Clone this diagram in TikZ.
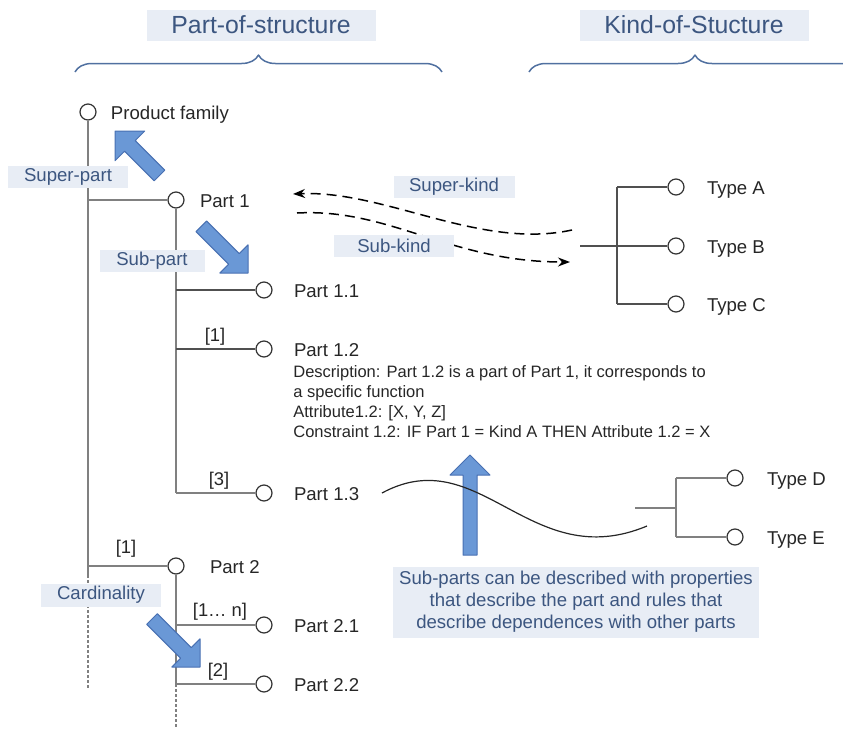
\documentclass[tikz,border=0pt]{standalone}
\usepackage{fontspec}
\setmainfont{Liberation Sans}
\usetikzlibrary{positioning,decorations.pathreplacing,arrows.meta}
\definecolor{tagfill}{RGB}{232,237,245}
\definecolor{tagtext}{RGB}{60,86,128}
\definecolor{bracecol}{RGB}{80,112,160}
\definecolor{arrowfill}{RGB}{106,152,214}
\definecolor{arrowedge}{RGB}{72,112,178}
\definecolor{stemgray}{RGB}{128,128,128}
\definecolor{linkgray}{RGB}{80,80,80}
\begin{document}
\begin{tikzpicture}[x=0.5pt,y=-0.5pt,line join=round,>={Stealth[length=6pt,width=4.5pt]},
  knot/.style={circle,draw=black!80,fill=white,line width=0.6pt,minimum size=8pt,inner sep=0pt},
  partlabel/.style={inner sep=0pt,text height=1.4ex,text depth=0pt,text=black!85,font=\fontsize{9.3}{11}\selectfont},
  card/.style={inner sep=0pt,text=black!85,font=\fontsize{9.2}{11}\selectfont},
  tag/.style={fill=tagfill,text=tagtext,inner sep=0pt,minimum height=11pt,font=\fontsize{9.3}{11}\selectfont},
  title/.style={fill=tagfill,text=tagtext,inner sep=0pt,minimum width=114.5pt,minimum height=15.5pt,font=\fontsize{12.4}{15}\selectfont},
  stem/.style={draw=stemgray,line width=1pt},
  link/.style={draw=linkgray,line width=0.7pt},
  cut/.style={dash pattern=on 1.5pt off 1pt},
  kindline/.style={line width=0.75pt,dash pattern=on 5pt off 3pt},
  fatarrow/.style={fill=arrowfill,draw=arrowedge,line width=0.5pt},
  curly/.style={draw=bracecol,line width=0.75pt,decorate,decoration={brace,amplitude=8.5pt}}]
\useasboundingbox (0,0) rectangle (843,729);

% headings
\node[title] (pos) at (261,25) {Part-of-structure};
\node[title] (kos) at (694,25) {Kind-of-Stucture};
\draw[curly] (75,72) -- (442,72);
\begin{scope}
\clip (0,0) rectangle (843,729);
\draw[curly] (529,72) -- (861,72);
\end{scope}

% part-of tree
\node[knot] (pf) at (88,112) {};
\node[knot] (p1) at (176,200) {};
\node[knot] (p11) at (264,290) {};
\node[knot] (p12) at (264,349) {};
\node[knot] (p13) at (264,493) {};
\node[knot] (p2) at (176,566) {};
\node[knot] (p21) at (264,625) {};
\node[knot] (p22) at (264,684) {};
\coordinate (mainbreak) at (88,575);
\coordinate (mainend) at (88,690);
\coordinate (subbreak) at (176,684);
\coordinate (subend) at (176,727);

\draw[stem] (pf) -- (mainbreak);
\draw[stem,cut] (mainbreak) -- (mainend);
\draw[stem] (pf |- p1) -- (p1);
\draw[stem] (pf |- p2) -- (p2);
\draw[stem] (p1) -- (p1 |- p13);
\draw[link] (p1 |- p11) -- (p11);
\draw[link] (p1 |- p12) -- (p12);
\draw[stem] (p1 |- p13) -- (p13);
\draw[stem] (p2) -- (subbreak);
\draw[stem,cut] (subbreak) -- (subend);
\draw[stem] (p2 |- p21) -- (p21);
\draw[stem] (p2 |- p22) -- (p22);

\node[partlabel,right=7pt of pf] (pft) {Product family};
\node[partlabel,right=7.5pt of p1] (p1t) {Part 1};
\node[partlabel,right=10.5pt of p11] (p11t) {Part 1.1};
\node[partlabel,right=10.5pt of p12] (p12t) {Part 1.2};
\node[partlabel,right=10.5pt of p13] (p13t) {Part 1.3};
\node[partlabel,right=12.5pt of p2] (p2t) {Part 2};
\node[partlabel,right=10.5pt of p21] (p21t) {Part 2.1};
\node[partlabel,right=10.5pt of p22] (p22t) {Part 2.2};
\node[anchor=north west,inner sep=0pt,align=left,text=black!85,font=\fontsize{8.25}{10}\selectfont] (p12d) at (293,365)
  {Description: Part 1.2 is a part of Part 1, it corresponds to\\a specific function\\Attribute1.2: [X, Y, Z]\\Constraint 1.2: IF Part 1 = Kind A THEN Attribute 1.2 = X};

\node[card] (c12) at (215,337) {[1]};
\node[card] (c13) at (219,481) {[3]};
\node[card] (c2) at (126,549) {[1]};
\node[card] (c21) at (220,612) {[1… n]};
\node[card] (c22) at (218,672) {[2]};

% kind-of trees
\node[knot] (ta) at (676,187) {};
\node[knot] (tb) at (676,246) {};
\node[knot] (tc) at (676,304) {};
\node[knot] (td) at (735,478) {};
\node[knot] (te) at (735,537) {};
\coordinate (kj) at (617,246);
\coordinate (ks) at (580,246);
\coordinate (dj) at (676,508);
\coordinate (ds) at (635,508);

\draw[link] (ks) -- (tb);
\draw[link] (kj |- ta) -- (kj |- tc);
\draw[link] (kj |- ta) -- (ta);
\draw[link] (kj |- tc) -- (tc);
\draw[stem,line width=0.8pt] (ds) -- (dj);
\draw[stem,line width=0.8pt] (dj |- td) -- (dj |- te);
\draw[stem,line width=0.8pt] (dj |- td) -- (td);
\draw[stem,line width=0.8pt] (dj |- te) -- (te);

\node[partlabel,right=11pt of ta] (tat) {Type A};
\node[partlabel,right=11pt of tb] (tbt) {Type B};
\node[partlabel,right=11pt of tc] (tct) {Type C};
\node[partlabel,right=11.5pt of td] (tdt) {Type D};
\node[partlabel,right=11.5pt of te] (tet) {Type E};

% super-kind / sub-kind
\coordinate (skfrom) at (572,230);
\coordinate (skto) at (293,194);
\coordinate (sbfrom) at (297,213);
\coordinate (sbto) at (570,262);
\draw[kindline,->] (skfrom) .. controls (480,250) and (385,190) .. (skto);
\draw[kindline,->] (sbfrom) .. controls (390,208) and (450,262) .. (sbto);

% labels
\node[tag,minimum width=60pt] (tsup) at (68,177) {Super-part};
\node[tag,minimum width=52.5pt] (tsub) at (152,261) {Sub-part};
\node[tag,minimum width=60.5pt] (tsk) at (454,187) {Super-kind};
\node[tag,minimum width=60pt] (tsbk) at (394,246) {Sub-kind};
\node[tag,minimum width=60pt,minimum height=11.5pt] (tcard) at (101,595) {Cardinality};
\node[fill=tagfill,text=tagtext,align=center,inner sep=0pt,minimum width=183pt,minimum height=35.5pt,font=\fontsize{9.3}{11}\selectfont] (note) at (576,602)
  {Sub-parts can be described with properties\\that describe the part and rules that\\describe dependences with other parts};

% block arrows
\filldraw[fatarrow] (115,131) -- (144.7,131) -- (135.2,140.6) -- (164.8,170.2) -- (154.2,180.8) -- (124.6,151.2) -- (115,160.7) -- cycle;
\filldraw[fatarrow] (248,273) -- (219.8,273) -- (228.6,264.2) -- (196,231.6) -- (206.6,221) -- (239.2,253.6) -- (248,244.8) -- cycle;
\filldraw[fatarrow] (200,667) -- (171.8,667) -- (180.6,658.2) -- (146.7,624.3) -- (157.3,613.7) -- (191.2,647.6) -- (200,638.8) -- cycle;
\filldraw[fatarrow] (470,455) -- (490,475) -- (477,475) -- (477,555) -- (463,555) -- (463,475) -- (450,475) -- cycle;

% link to types D/E
\coordinate (wv1) at (382,493);
\coordinate (wv2) at (647,526);
\draw[black!85,line width=0.6pt] (wv1) .. controls (480,440) and (530,575) .. (wv2);
\end{tikzpicture}
\end{document}
